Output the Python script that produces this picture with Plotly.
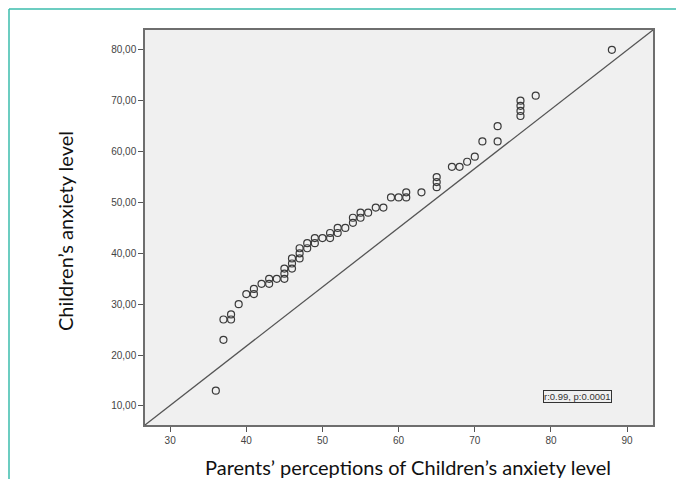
import plotly.graph_objects as go

# Data (parents' perceptions vs children's anxiety level)
parents = [36, 37, 37, 38, 38, 39, 40, 41, 41, 42, 43, 43, 44,
           45, 45, 45, 46, 46, 46, 47, 47, 47, 48, 48, 49, 49, 50,
           51, 51, 52, 52, 53, 54, 54, 55, 55, 56, 57, 58,
           59, 60, 61, 61, 63, 65, 65, 65, 67, 68, 69, 70, 71,
           73, 73, 76, 76, 76, 76, 78, 88]
children = [13, 23, 27, 27, 28, 30, 32, 32, 33, 34, 34, 35, 35,
            35, 36, 37, 37, 38, 39, 39, 40, 41, 41, 42, 42, 43, 43,
            43, 44, 44, 45, 45, 46, 47, 47, 48, 48, 49, 49,
            51, 51, 51, 52, 52, 53, 54, 55, 57, 57, 58, 59, 62,
            62, 65, 67, 68, 69, 70, 71, 80]

x_tickvals = [30, 40, 50, 60, 70, 80, 90]
x_ticktext = ["30", "40", "50", "60", "70", "80", "90"]
y_tickvals = [10, 20, 30, 40, 50, 60, 70, 80]
y_ticktext = ["10,00", "20,00", "30,00", "40,00", "50,00", "60,00", "70,00", "80,00"]

x_range = [26.7, 93.4]
y_range = [6.26, 83.9]

stat_text = "r:0.99, p:0.0001"
x_title = "Parents’ perceptions of Children’s anxiety level"
y_title = "Children’s anxiety level"

# figure sits at an 8px page offset; plot area in figure px
W, H = 676, 471
L, R, T, B = 137, 31, 22, 54
PW, PH = W - L - R, H - T - B

fig = go.Figure()
fig.add_trace(go.Scatter(
    x=parents, y=children, mode="markers",
    marker=dict(symbol="circle-open", size=7, color="#3a3a3a",
                line=dict(width=1.2, color="#3a3a3a")),
    showlegend=False, hoverinfo="x+y"))

axis_common = dict(showgrid=False, zeroline=False, showline=True, mirror=True,
                   linecolor="#6e6e6e", linewidth=1.5, ticks="outside",
                   ticklen=5, tickwidth=1.2, tickcolor="#555555",
                   tickfont=dict(family="Liberation Sans, Arial", size=10, color="#444444"))

fig.update_xaxes(range=x_range, tickmode="array", tickvals=x_tickvals,
                 ticktext=x_ticktext, **axis_common)
fig.update_yaxes(range=y_range, tickmode="array", tickvals=y_tickvals,
                 ticktext=y_ticktext, **axis_common)

fig.update_layout(
    width=W, height=H,
    margin=dict(l=L, r=R, t=T, b=B),
    paper_bgcolor="white", plot_bgcolor="#f0f0f0",
    shapes=[
        # diagonal reference line corner to corner
        dict(type="line", xref="x domain", yref="y domain", x0=0, y0=0, x1=1, y1=1,
             line=dict(color="#555555", width=1.3)),
        # teal frame (top and left)
        dict(type="line", xref="paper", yref="paper",
             x0=-(L - 1) / PW, y0=1 + (T - 1) / PH, x1=1 + R / PW, y1=1 + (T - 1) / PH,
             line=dict(color="#3bbdad", width=1.5)),
        dict(type="line", xref="paper", yref="paper",
             x0=-(L - 1) / PW, y0=1 + (T - 1) / PH, x1=-(L - 1) / PW, y1=-B / PH,
             line=dict(color="#3bbdad", width=1.5)),
    ],
    annotations=[
        dict(text=stat_text, xref="x domain", yref="y domain", x=0.852, y=0.073,
             xanchor="center", yanchor="middle",
             showarrow=False, font=dict(family="Liberation Sans, Arial", size=9.5, color="#333333"),
             bordercolor="#333333", borderwidth=1, borderpad=0, bgcolor="#f0f0f0"),
        dict(text=x_title, xref="paper", yref="paper", x=(400 - L) / PW, y=-(459 - (T + PH)) / PH,
             xanchor="center", yanchor="middle", showarrow=False,
             font=dict(family="Lato, Open Sans", size=20, color="#111111")),
        dict(text=y_title, xref="paper", yref="paper", x=-(L - 57) / PW, y=(T + PH - 223) / PH,
             xanchor="center", yanchor="middle", textangle=-90, showarrow=False,
             font=dict(family="Lato, Open Sans", size=20, color="#111111")),
    ],
)

fig.write_html("out.html")
